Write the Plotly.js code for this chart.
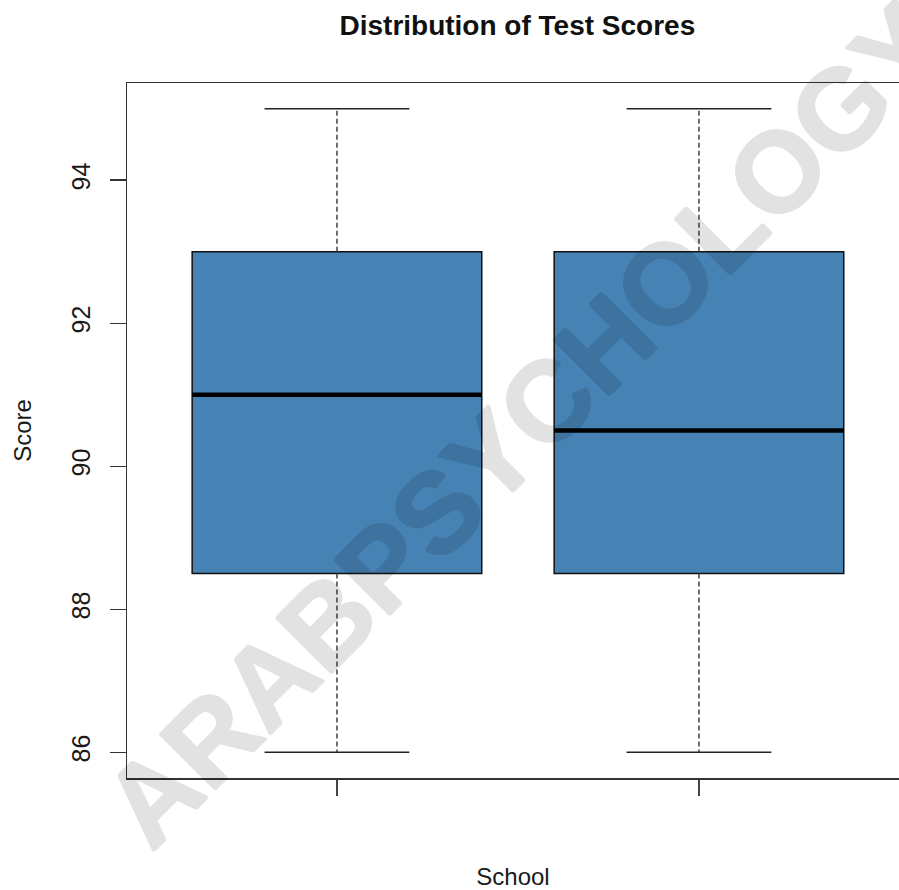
<!DOCTYPE html>
<html>
<head>
<meta charset="utf-8">
<script src="https://cdn.plot.ly/plotly-3.0.1.min.js"></script>
<style>html,body{margin:0;padding:0;background:#fff;}#chart{width:899px;height:890px;}</style>
</head>
<body>
<div id="chart"></div>
<script>
// Data
var schools = ["School 1", "School 2"];
var positions = [1, 2];
var minScores = [86, 86];
var q1Scores = [88.5, 88.5];
var medianScores = [91, 90.5];
var q3Scores = [93, 93];
var maxScores = [95, 95];
var yTicks = [86, 88, 90, 92, 94];

var BOX_HALF = 0.4, CAP_HALF = 0.2;

var wx = [], wy = [];
var cx = [], cy = [];
var mx = [], my = [];
for (var i = 0; i < positions.length; i++) {
  var p = positions[i];
  wx.push(p, p, null, p, p, null);
  wy.push(q3Scores[i], maxScores[i], null, q1Scores[i], minScores[i], null);
  cx.push(p - CAP_HALF, p + CAP_HALF, null, p - CAP_HALF, p + CAP_HALF, null);
  cy.push(maxScores[i], maxScores[i], null, minScores[i], minScores[i], null);
  mx.push(p - BOX_HALF, p + BOX_HALF, null);
  my.push(medianScores[i], medianScores[i], null);
}

var data = [
  {
    type: 'box',
    x: positions,
    q1: q1Scores,
    median: medianScores,
    q3: q3Scores,
    lowerfence: q1Scores,
    upperfence: q3Scores,
    width: 2 * BOX_HALF,
    whiskerwidth: 0,
    fillcolor: '#4682B4',
    line: {color: '#111', width: 1.5},
    hoverinfo: 'skip',
    showlegend: false
  },
  {
    type: 'scatter', mode: 'lines', x: wx, y: wy,
    line: {color: '#444', width: 1.5, dash: '5px,3px'},
    hoverinfo: 'skip', showlegend: false
  },
  {
    type: 'scatter', mode: 'lines', x: cx, y: cy,
    line: {color: '#222', width: 1.5},
    hoverinfo: 'skip', showlegend: false
  },
  {
    type: 'scatter', mode: 'lines', x: mx, y: my,
    line: {color: '#000', width: 4.5},
    hoverinfo: 'skip', showlegend: false
  }
];

var layout = {
  width: 899, height: 890,
  margin: {l: 127, r: 0, t: 83, b: 112, pad: 0},
  paper_bgcolor: '#fff', plot_bgcolor: '#fff',
  font: {family: 'Liberation Sans, Arial, sans-serif', color: '#1a1a1a'},
  showlegend: false,
  title: {
    text: 'Distribution of Test Scores',
    font: {size: 28, weight: 'bold', color: '#111', family: 'Liberation Sans, Arial, sans-serif'},
    xref: 'container', x: 0.5755, xanchor: 'center',
    yref: 'container', y: 0.972, yanchor: 'middle'
  },
  xaxis: {
    range: [0.42, 2.5526],
    tickvals: positions,
    showticklabels: false,
    ticks: 'outside', ticklen: 16, tickwidth: 1.5, tickcolor: '#444',
    showgrid: false, zeroline: false,
    showline: true, linecolor: '#333', linewidth: 1.5, mirror: true,
    title: {text: 'School', font: {size: 24, color: '#1a1a1a'}, standoff: 80},
    automargin: false
  },
  yaxis: {
    range: [85.64, 95.36],
    tickvals: yTicks,
    ticks: 'outside', ticklen: 16, tickwidth: 1.5, tickcolor: '#333',
    tickangle: -90,
    ticklabelstandoff: 10,
    tickfont: {size: 25, color: '#1a1a1a'},
    showgrid: false, zeroline: false,
    showline: true, linecolor: '#333', linewidth: 1.5,
    title: {text: 'Score', font: {size: 24, color: '#1a1a1a'}, standoff: 28},
    automargin: false
  },
  annotations: [{
    text: '<b>ARABPSYCHOLOGY</b>',
    xref: 'paper', yref: 'paper', x: 0.515, y: 0.508,
    xanchor: 'center', yanchor: 'middle',
    textangle: -45, showarrow: false,
    opacity: 0.11,
    font: {
      size: 114, color: '#000', family: 'Liberation Sans, Arial, sans-serif',
      shadow: '1.2px 0 0 #000, -1.2px 0 0 #000, 0 1.2px 0 #000, 0 -1.2px 0 #000'
    }
  }]
};

Plotly.newPlot('chart', data, layout, {displayModeBar: false, staticPlot: true});
</script>
</body>
</html>
